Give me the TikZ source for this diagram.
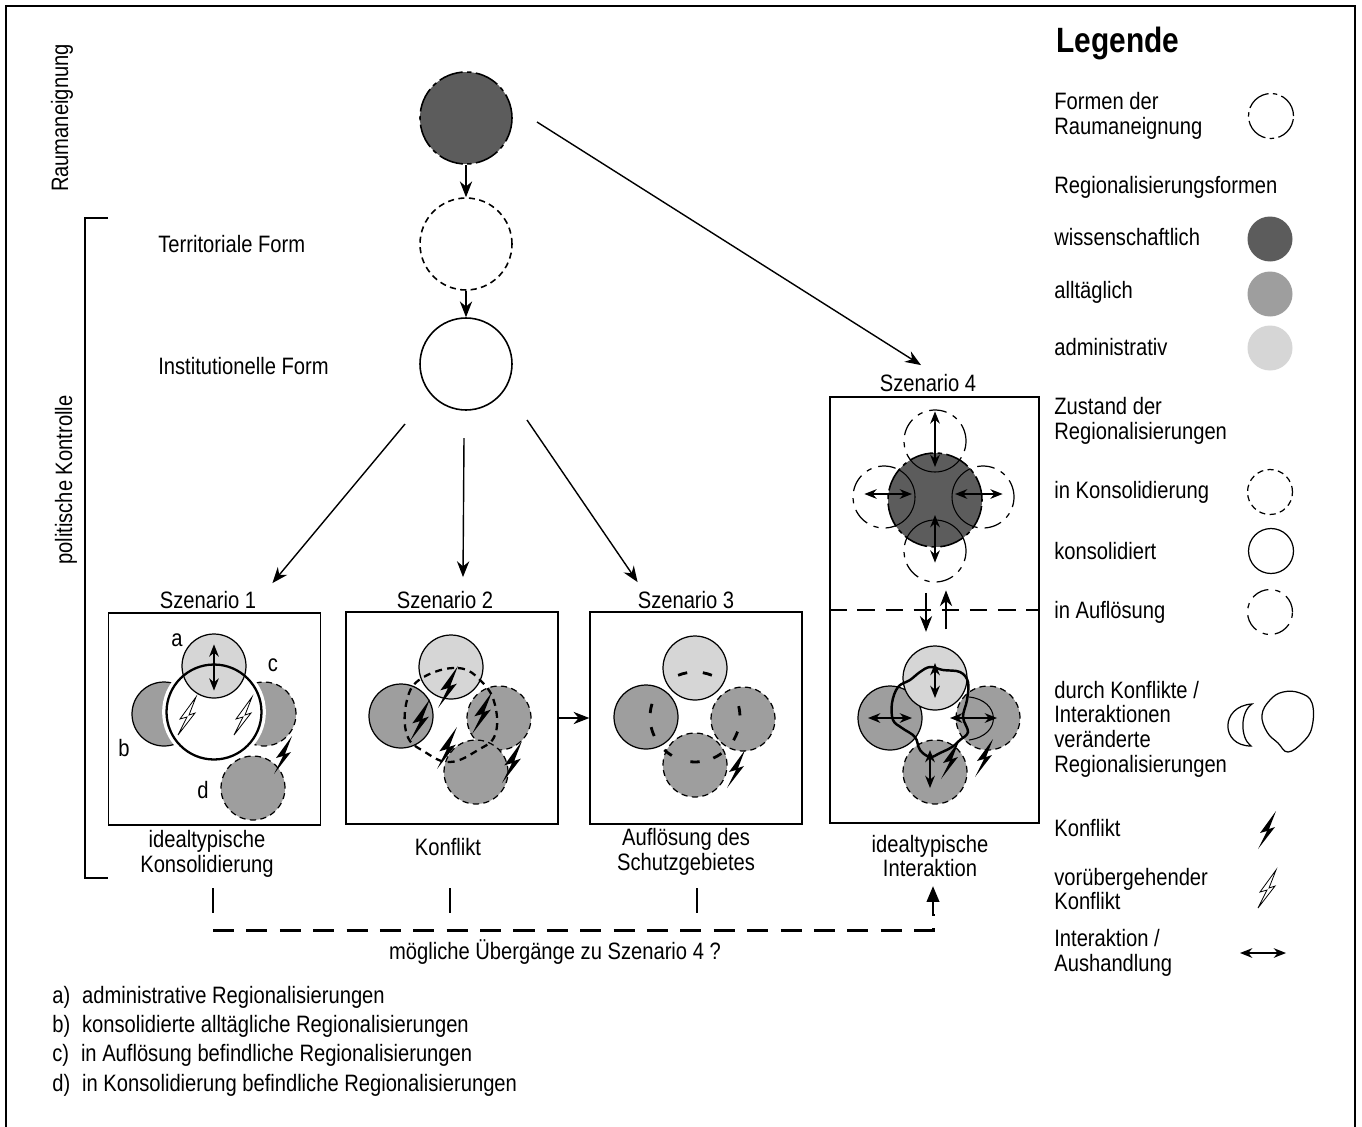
\documentclass[tikz,border=0pt]{standalone}
\usepackage{fontspec}
\setmainfont{Liberation Sans}[FakeStretch=0.85]
\usetikzlibrary{arrows.meta, positioning, calc}

\definecolor{wiss}{gray}{0.36}
\definecolor{allt}{gray}{0.62}
\definecolor{admin}{gray}{0.84}

\tikzset{
  pics/blitz/.style={code={
    \fill (9,-19) -- (-7,3) -- (0,1) -- (-9,19) -- (8,-3) -- (2,-1) -- cycle;}},
  pics/blitzhohl/.style={code={
    \draw[line width=0.45pt, fill=white] (9,-19) -- (-7,3) -- (0,1) -- (-9,19) -- (8,-3) -- (2,-1) -- cycle;}}
}

\begin{document}
\begin{tikzpicture}[x=0.02cm, y=-0.02cm, >={Stealth[length=9pt, width=7pt]},
    every node/.style={font=\fontsize{13.5}{14}\selectfont},
    txt/.style={anchor=west, inner sep=0pt, align=left},
    reg/.style={circle, draw, line width=0.7pt, minimum size=1.28cm, inner sep=0pt},
    form/.style={circle, draw, line width=0.9pt, minimum size=1.84cm, inner sep=0pt},
    symb/.style={circle, draw, line width=0.7pt, minimum size=0.9cm, inner sep=0pt},
    konsol/.style={dash pattern=on 3.5pt off 2.5pt},
    aufl/.style={dash pattern=on 10pt off 4pt on 3pt off 4pt},
    raum/.style={dash pattern=on 14pt off 2.5pt on 2.5pt off 2.5pt},
    szbox/.style={draw, line width=0.8pt, minimum width=4.24cm, minimum height=4.24cm, inner sep=0pt},
    unter/.style={align=center, inner sep=2pt},
    flow/.style={->, line width=0.8pt},
    ww/.style={{Stealth[length=7pt, width=5.5pt]}-{Stealth[length=7pt, width=5.5pt]}, line width=0.8pt}]

\useasboundingbox (0,0) rectangle (1362,1126);
\fill[white] (0,0) rectangle (1362,1126);
\draw[line width=1.2pt] (6,1140) -- (6,6) -- (1355,6) -- (1355,1140);

% linke Seite
\node[rotate=90] (raumlab) at (62,118) {Raumaneignung};
\node[rotate=90] (polit) at (66,480) {politische Kontrolle};
\draw[line width=0.7pt] (108,218) -| (85,878) -- (108,878);

% Formen
\node[form, fill=wiss, raum] (rform) at (466,118) {};
\node[form, konsol] (terr) at (466,244) {};
\node[form] (inst) at (466,364) {};
\node[txt] (terrlab) at (158,244) {Territoriale Form};
\node[txt] (instlab) at (158,366) {Institutionelle Form};
\draw[flow] (rform) -- (terr);
\draw[flow] (terr) -- (inst);

% Szenarien
\node[szbox] (s1) at (214.5,719) {};
\node[szbox] (s2) at (452,718) {};
\node[szbox] (s3) at (696,718) {};
\node[szbox, minimum width=4.18cm, minimum height=8.52cm] (s4) at (934.5,610) {};
\node (sz1) at (208,600) {Szenario 1};
\node (sz2) at (445,600) {Szenario 2};
\node (sz3) at (686,600) {Szenario 3};
\node (sz4) at (928,383) {Szenario 4};
\node[unter] (lab1) at (207,854) {idealtypische\\Konsolidierung};
\node[unter] (lab2) at (448,847) {Konflikt};
\node[unter] (lab3) at (686,852) {Auflösung des\\Schutzgebietes};
\node[unter] (lab4) at (930,856) {idealtypische\\Interaktion};

\draw[flow] ($(inst)+(-61,60)$) -- ($(sz1.north east)+(10,-2)$);
\draw[flow] ($(inst)+(-2,74)$) -- ($(sz2.north)+(18,-8)$);
\draw[flow] ($(inst)+(61,56)$) -- ($(sz3.north west)+(6,-3)$);
\draw[flow] ($(rform)+(71,4)$) -- ($(sz4.north)+(-7,-3)$);
\draw[flow] (s2) -- (s3);

% Szenario 1
\node[reg, fill=allt] (s1b) at (164,714) {};
\node[reg, fill=allt, konsol] (s1c) at (264,714) {};
\node[circle, minimum size=1.9cm, fill=white, draw=white, line width=5pt] (s1gross) at (214,712) {};
\node[reg, fill=admin] (s1a) at (214,666) {};
\node[circle, minimum size=1.9cm, draw, line width=1.3pt] (s1ring) at (214,712) {};
\node[reg, fill=allt, konsol] (s1d) at (253,788) {};
\draw[ww] ($(s1a.north)+(0,11)$) -- ($(s1a.south)+(0,-8)$);
\pic at (187,716) {blitzhohl};
\pic at (243,716) {blitzhohl};
\pic at (283,755) {blitz};
\node (la) at (177,640) {a};
\node (lb) at (124,748) {b};
\node (lc) at (273,665) {c};
\node (ld) at (203,790) {d};

% Szenario 2
\node[reg, fill=admin] (s2a) at (451,667) {};
\node[reg, fill=allt] (s2l) at (401,716) {};
\node[reg, fill=allt, konsol] (s2r) at (499,718) {};
\node[reg, fill=allt, konsol] (s2u) at (476,772) {};
\draw[line width=1.3pt, dash pattern=on 4pt off 3pt] plot[smooth cycle, tension=0.7]
  coordinates {(422,678) (458,668) (482,682) (495,705) (495,735) (478,750) (450,762) (425,752) (407,735) (407,700)};
\foreach \p in {(448,687), (420,720), (482,713), (447,748), (512,762)}
  \pic[scale=1.1] at \p {blitz};

% Szenario 3
\node[reg, fill=admin] (s3a) at (695,668) {};
\node[reg, fill=allt] (s3l) at (646,717) {};
\node[reg, fill=allt, konsol] (s3r) at (743,719) {};
\node[reg, fill=allt, konsol] (s3u) at (695,765) {};
\coordinate (s3m) at (695,717);
\foreach \w in {254, 286, 191, 161, 352, 25, 90, 127, 60}
  \draw[line width=1.6pt] ($(s3m)+(\w-6:45)$) arc[start angle=\w-6, end angle=\w+6, radius=45];
\pic at (736,769) {blitz};

% Szenario 4 oben
\node[reg, aufl, fill=white, minimum size=1.24cm] (s4n) at (935,441) {};
\node[reg, aufl, fill=white, minimum size=1.24cm] (s4s) at (935,551) {};
\node[reg, aufl, fill=white, minimum size=1.24cm] (s4w) at (884,497) {};
\node[reg, aufl, fill=white, minimum size=1.24cm] (s4o) at (983,497) {};
\node[form, fill=wiss, raum, minimum size=1.88cm] (s4dark) at (935,500) {};
\begin{scope}
  \clip (s4dark.center) circle[radius=47];
  \foreach \n in {s4n, s4s, s4w, s4o}
    \draw[line width=0.6pt] (\n.center) circle[radius=31];
\end{scope}
\draw[ww] ($(s4n.north)+(0,2)$) -- ($(s4dark)+(0,-33)$);
\draw[ww] ($(s4dark)+(0,15)$) -- ($(s4s.south)+(0,-20)$);
\draw[ww] ($(s4w.west)+(12,-3)$) -- ($(s4dark)+(-23,-6)$);
\draw[ww] ($(s4dark)+(20,-6)$) -- ($(s4o.east)+(-12,-3)$);
\draw[line width=0.7pt, dash pattern=on 10pt off 6pt] (s4.west) -- (s4.east);

% Szenario 4 unten
\node[reg, fill=allt] (s4l) at (890,718) {};
\node[reg, fill=allt, konsol] (s4r) at (988,718) {};
\node[reg, fill=allt, konsol] (s4u) at (935,772) {};
\node[reg, fill=admin] (s4a) at (935,678) {};
\draw[line width=1.4pt] plot[smooth cycle, tension=0.6]
  coordinates {(920,672) (930,667) (943,670) (960,672) (968,682) (967,700) (963,717) (968,732) (960,740) (952,747) (940,753) (930,757) (920,750) (915,737) (902,728) (893,720) (892,703) (898,687) (910,680)};
\draw[line width=0.6pt] (969,697) .. controls (1000,700) and (1003,735) .. (969,740);
\draw[flow, line width=0.6pt] ($(s4dark.south)+(-9,45)$) -- ($(s4dark.south)+(-9,84)$);
\draw[flow, line width=0.6pt] ($(s4a.north)+(11,-16)$) -- ($(s4a.north)+(11,-55)$);
\draw[ww] ($(s4a)+(0,-15)$) -- ($(s4a)+(0,20)$);
\draw[ww] ($(s4l)+(-22,0)$) -- ($(s4l)+(22,0)$);
\draw[ww] ($(s4r)+(-38,0)$) -- ($(s4r)+(9,0)$);
\draw[ww] ($(s4u)+(-5,-22)$) -- ($(s4u)+(-5,16)$);
\pic at (950,760) {blitz};
\pic at (984,758) {blitz};

% Uebergaenge
\foreach \x in {213, 450, 697}
  \draw[line width=1.4pt] (\x,888) -- (\x,913);
\coordinate (ue1) at (213,930);
\coordinate (ue2) at (933,930);
\draw[line width=1.7pt, dash pattern=on 12pt off 7pt] (ue1) -- (ue2) -- ++(0,-16);
\draw[line width=1.5pt, -{Triangle[length=9pt, width=7pt]}] ($(ue2)+(0,-16)$) -- ($(ue2)+(0,-44)$);
\node (uebtxt) at (555,952) {mögliche Übergänge zu Szenario 4 ?};

\foreach \bu/\txt/\yy in {a/administrative Regionalisierungen/997,
    b/konsolidierte alltägliche Regionalisierungen/1026,
    c/in Auflösung befindliche Regionalisierungen/1055,
    d/in Konsolidierung befindliche Regionalisierungen/1085}
  \node[txt] (fn\bu) at (52,\yy) {\bu)\enspace\txt};

% Legende
\node[txt, font=\fontsize{20}{22}\selectfont\bfseries] (leg) at (1056,43) {Legende};
\node[txt] (lraum) at (1054,116) {Formen der\\Raumaneignung};
\node[symb, raum] (sraum) at (1271,116) {};
\node[txt] (lregform) at (1054,187) {Regionalisierungsformen};
\node[txt] (lwiss) at (1054,237) {wissenschaftlich};
\node[symb, draw=none, fill=wiss] (swiss) at (1270,239) {};
\node[txt] (lallt) at (1054,292) {alltäglich};
\node[symb, draw=none, fill=allt] (sallt) at (1270,294) {};
\node[txt] (ladmin) at (1054,347) {administrativ};
\node[symb, draw=none, fill=admin] (sadmin) at (1270,348) {};
\node[txt] (lzust) at (1054,421) {Zustand der\\Regionalisierungen};
\node[txt] (lkons) at (1054,492) {in Konsolidierung};
\node[symb, konsol] (skons) at (1270,492) {};
\node[txt] (lkonsd) at (1054,551) {konsolidiert};
\node[symb] (skonsd) at (1271,551) {};
\node[txt] (laufl) at (1054,612) {in Auflösung};
\node[symb, aufl] (saufl) at (1270,612) {};
\node[txt] (lverae) at (1054,729) {durch Konflikte /\\Interaktionen\\veränderte\\Regionalisierungen};
\draw[line width=0.7pt] (1252,704) .. controls (1220,706) and (1220,746) .. (1251,746)
  .. controls (1240,738) and (1240,712) .. cycle;
\draw[line width=0.7pt] plot[smooth cycle, tension=0.7]
  coordinates {(1283,692) (1300,693) (1312,703) (1312,727) (1303,742) (1288,752) (1278,743) (1267,732) (1262,715) (1270,700)};
\node[txt] (lkonf) at (1054,828) {Konflikt};
\pic at (1267,830) {blitz};
\node[txt] (lvorue) at (1054,889) {vorübergehender\\Konflikt};
\pic at (1267,889) {blitzhohl};
\node[txt] (linter) at (1054,953) {Interaktion /\\Aushandlung};
\coordinate (wl) at (1240,953);
\coordinate (wr) at (1286,953);
\draw[ww] (wl) -- (wr);
\end{tikzpicture}
\end{document}
